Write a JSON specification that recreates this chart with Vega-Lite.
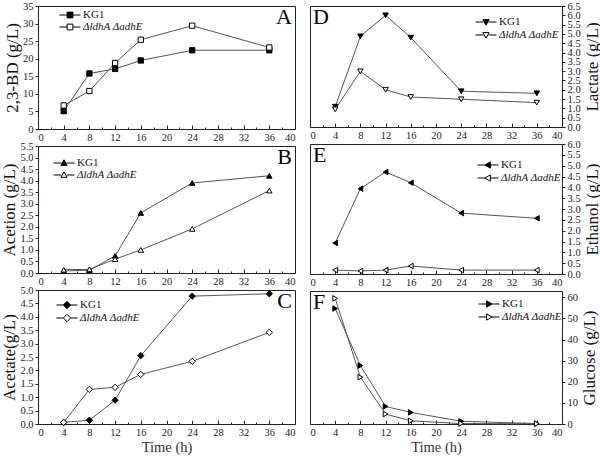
{
  "$schema": "https://vega.github.io/schema/vega-lite/v6.json",
  "padding": {"left": 0, "top": 0, "right": 0, "bottom": 0},
  "datasets": {
    "d": [
      {"panel": "A", "strain": "KG1", "time": 4, "value": 5.1},
      {"panel": "A", "strain": "KG1", "time": 8, "value": 15.8},
      {"panel": "A", "strain": "KG1", "time": 12, "value": 17.1},
      {"panel": "A", "strain": "KG1", "time": 16, "value": 19.5},
      {"panel": "A", "strain": "KG1", "time": 24, "value": 22.4},
      {"panel": "A", "strain": "KG1", "time": 36, "value": 22.4},
      {"panel": "A", "strain": "ΔldhA ΔadhE", "time": 4, "value": 6.7},
      {"panel": "A", "strain": "ΔldhA ΔadhE", "time": 8, "value": 10.8},
      {"panel": "A", "strain": "ΔldhA ΔadhE", "time": 12, "value": 18.8},
      {"panel": "A", "strain": "ΔldhA ΔadhE", "time": 16, "value": 25.4},
      {"panel": "A", "strain": "ΔldhA ΔadhE", "time": 24, "value": 29.4},
      {"panel": "A", "strain": "ΔldhA ΔadhE", "time": 36, "value": 23.2},
      {"panel": "B", "strain": "KG1", "time": 4, "value": 0.09},
      {"panel": "B", "strain": "KG1", "time": 8, "value": 0.12},
      {"panel": "B", "strain": "KG1", "time": 12, "value": 0.74},
      {"panel": "B", "strain": "KG1", "time": 16, "value": 2.6},
      {"panel": "B", "strain": "KG1", "time": 24, "value": 3.9},
      {"panel": "B", "strain": "KG1", "time": 36, "value": 4.21},
      {"panel": "B", "strain": "ΔldhA ΔadhE", "time": 4, "value": 0.14},
      {"panel": "B", "strain": "ΔldhA ΔadhE", "time": 8, "value": 0.16},
      {"panel": "B", "strain": "ΔldhA ΔadhE", "time": 12, "value": 0.6},
      {"panel": "B", "strain": "ΔldhA ΔadhE", "time": 16, "value": 1.0},
      {"panel": "B", "strain": "ΔldhA ΔadhE", "time": 24, "value": 1.91},
      {"panel": "B", "strain": "ΔldhA ΔadhE", "time": 36, "value": 3.57},
      {"panel": "C", "strain": "KG1", "time": 4, "value": 0.06},
      {"panel": "C", "strain": "KG1", "time": 8, "value": 0.14},
      {"panel": "C", "strain": "KG1", "time": 12, "value": 0.89},
      {"panel": "C", "strain": "KG1", "time": 16, "value": 2.55},
      {"panel": "C", "strain": "KG1", "time": 24, "value": 4.77},
      {"panel": "C", "strain": "KG1", "time": 36, "value": 4.86},
      {"panel": "C", "strain": "ΔldhA ΔadhE", "time": 4, "value": 0.06},
      {"panel": "C", "strain": "ΔldhA ΔadhE", "time": 8, "value": 1.29},
      {"panel": "C", "strain": "ΔldhA ΔadhE", "time": 12, "value": 1.37},
      {"panel": "C", "strain": "ΔldhA ΔadhE", "time": 16, "value": 1.85},
      {"panel": "C", "strain": "ΔldhA ΔadhE", "time": 24, "value": 2.34},
      {"panel": "C", "strain": "ΔldhA ΔadhE", "time": 36, "value": 3.42},
      {"panel": "D", "strain": "KG1", "time": 4, "value": 1.09},
      {"panel": "D", "strain": "KG1", "time": 8, "value": 4.87},
      {"panel": "D", "strain": "KG1", "time": 12, "value": 6.0},
      {"panel": "D", "strain": "KG1", "time": 16, "value": 4.8},
      {"panel": "D", "strain": "KG1", "time": 24, "value": 1.92},
      {"panel": "D", "strain": "KG1", "time": 36, "value": 1.81},
      {"panel": "D", "strain": "ΔldhA ΔadhE", "time": 4, "value": 0.95},
      {"panel": "D", "strain": "ΔldhA ΔadhE", "time": 8, "value": 2.99},
      {"panel": "D", "strain": "ΔldhA ΔadhE", "time": 12, "value": 2.0},
      {"panel": "D", "strain": "ΔldhA ΔadhE", "time": 16, "value": 1.61},
      {"panel": "D", "strain": "ΔldhA ΔadhE", "time": 24, "value": 1.49},
      {"panel": "D", "strain": "ΔldhA ΔadhE", "time": 36, "value": 1.31},
      {"panel": "E", "strain": "KG1", "time": 4, "value": 1.43},
      {"panel": "E", "strain": "KG1", "time": 8, "value": 3.94},
      {"panel": "E", "strain": "KG1", "time": 12, "value": 4.71},
      {"panel": "E", "strain": "KG1", "time": 16, "value": 4.21},
      {"panel": "E", "strain": "KG1", "time": 24, "value": 2.81},
      {"panel": "E", "strain": "KG1", "time": 36, "value": 2.57},
      {"panel": "E", "strain": "ΔldhA ΔadhE", "time": 4, "value": 0.18},
      {"panel": "E", "strain": "ΔldhA ΔadhE", "time": 8, "value": 0.14},
      {"panel": "E", "strain": "ΔldhA ΔadhE", "time": 12, "value": 0.18},
      {"panel": "E", "strain": "ΔldhA ΔadhE", "time": 16, "value": 0.37},
      {"panel": "E", "strain": "ΔldhA ΔadhE", "time": 24, "value": 0.18},
      {"panel": "E", "strain": "ΔldhA ΔadhE", "time": 36, "value": 0.18},
      {"panel": "F", "strain": "KG1", "time": 4, "value": 54.7},
      {"panel": "F", "strain": "KG1", "time": 8, "value": 27.7},
      {"panel": "F", "strain": "KG1", "time": 12, "value": 8.3},
      {"panel": "F", "strain": "KG1", "time": 16, "value": 5.5},
      {"panel": "F", "strain": "KG1", "time": 24, "value": 1.3},
      {"panel": "F", "strain": "KG1", "time": 36, "value": 0.2},
      {"panel": "F", "strain": "ΔldhA ΔadhE", "time": 4, "value": 59.5},
      {"panel": "F", "strain": "ΔldhA ΔadhE", "time": 8, "value": 22.2},
      {"panel": "F", "strain": "ΔldhA ΔadhE", "time": 12, "value": 4.7},
      {"panel": "F", "strain": "ΔldhA ΔadhE", "time": 16, "value": 1.5},
      {"panel": "F", "strain": "ΔldhA ΔadhE", "time": 24, "value": 0.2},
      {"panel": "F", "strain": "ΔldhA ΔadhE", "time": 36, "value": 0.1}
    ]
  },
  "spacing": 13,
  "resolve": {"scale": {"fill": "independent", "x": "independent", "y": "independent"}, "legend": {"fill": "independent"}},
  "hconcat": [
    {
      "spacing": 17,
      "bounds": "flush",
      "resolve": {"scale": {"fill": "independent", "x": "independent", "y": "independent"}, "legend": {"fill": "independent"}},
      "vconcat": [
        {
          "width": 257, "height": 123,
          "data": {"name": "d"},
          "resolve": {"axis": {"x": "independent", "y": "independent"}},
          "layer": [
            {"transform": [{"filter": "datum.panel == 'A'"}],
             "mark": {"type": "line", "color": "#555", "strokeWidth": 1},
             "encoding": {
               "x": {"field": "time", "type": "quantitative", "scale": {"domain": [0, 40], "nice": false}, "axis": {"orient": "bottom", "values": [0,4,8,12,16,20,24,28,32,36,40], "labelOverlap": false, "title": null, "tickSize": -4, "labelPadding": 7}},
               "y": {"field": "value", "type": "quantitative", "scale": {"domain": [0, 35], "nice": false}, "axis": {"orient": "left", "values": [0,5,10,15,20,25,30,35], "labelOverlap": false, "title": "2,3-BD (g/L)", "titleFontWeight": 400, "titleFontSize": 17, "titlePadding": 1}},
               "detail": {"field": "strain"}}},
            {"transform": [{"filter": "datum.panel == 'A'"}],
             "mark": {"type": "point", "shape": "square", "filled": true, "size": 28, "stroke": "black", "strokeWidth": 1, "opacity": 1},
             "encoding": {
               "x": {"field": "time", "type": "quantitative", "axis": {"orient": "bottom", "values": [2,6,10,14,18,22,26,30,34,38], "labels": false, "tickSize": -2, "title": null}},
               "y": {"field": "value", "type": "quantitative", "axis": null},
               "fill": {"field": "strain", "type": "nominal", "scale": {"domain": ["KG1", "ΔldhA ΔadhE"], "range": ["black", "white"]},
                 "legend": {"orient": "none", "legendX": 26, "legendY": 3, "symbolType": "M-2,0H-0.55M0.55,0H2M-0.55,-0.55H0.55V0.55H-0.55Z", "symbolSize": 110, "labelOffset": 7}}}},
            {"data": {"values": [{"t": "A"}]},
             "mark": {"type": "text", "align": "right", "baseline": "top", "dx": -3, "dy": 1, "fontSize": 22, "font": "Liberation Serif"},
             "encoding": {"x": {"datum": 40, "axis": null}, "y": {"datum": 35, "axis": null}, "text": {"field": "t"}}}
          ]
        },
        {
          "width": 257, "height": 127,
          "data": {"name": "d"},
          "resolve": {"axis": {"x": "independent", "y": "independent"}},
          "layer": [
            {"transform": [{"filter": "datum.panel == 'B'"}],
             "mark": {"type": "line", "color": "#555", "strokeWidth": 1},
             "encoding": {
               "x": {"field": "time", "type": "quantitative", "scale": {"domain": [0, 40], "nice": false}, "axis": {"orient": "bottom", "values": [0,4,8,12,16,20,24,28,32,36,40], "labelOverlap": false, "title": null, "tickSize": -4, "labelPadding": 7}},
               "y": {"field": "value", "type": "quantitative", "scale": {"domain": [0, 5.5], "nice": false}, "axis": {"orient": "left", "values": [0,0.5,1,1.5,2,2.5,3,3.5,4,4.5,5,5.5], "labelOverlap": false, "format": ".1f", "title": "Acetion (g/L)", "titleFontWeight": 400, "titleFontSize": 17, "titlePadding": 1}},
               "detail": {"field": "strain"}}},
            {"transform": [{"filter": "datum.panel == 'B'"}],
             "mark": {"type": "point", "shape": "triangle-up", "filled": true, "size": 30, "stroke": "black", "strokeWidth": 1, "opacity": 1},
             "encoding": {
               "x": {"field": "time", "type": "quantitative", "axis": {"orient": "bottom", "values": [2,6,10,14,18,22,26,30,34,38], "labels": false, "tickSize": -2, "title": null}},
               "y": {"field": "value", "type": "quantitative", "axis": null},
               "fill": {"field": "strain", "type": "nominal", "scale": {"domain": ["KG1", "ΔldhA ΔadhE"], "range": ["black", "white"]},
                 "legend": {"orient": "none", "legendX": 20, "legendY": 11, "symbolType": "M-2,0H-0.5M0.5,0H2M0,-0.6L0.6,0.45L-0.6,0.45Z", "symbolSize": 110, "labelOffset": 7}}}},
            {"data": {"values": [{"t": "B"}]},
             "mark": {"type": "text", "align": "right", "baseline": "top", "dx": -3, "dy": 1, "fontSize": 22, "font": "Liberation Serif"},
             "encoding": {"x": {"datum": 40, "axis": null}, "y": {"datum": 5.5, "axis": null}, "text": {"field": "t"}}}
          ]
        },
        {
          "width": 257, "height": 134,
          "data": {"name": "d"},
          "resolve": {"axis": {"x": "independent", "y": "independent"}},
          "layer": [
            {"transform": [{"filter": "datum.panel == 'C'"}],
             "mark": {"type": "line", "color": "#555", "strokeWidth": 1},
             "encoding": {
               "x": {"field": "time", "type": "quantitative", "scale": {"domain": [0, 40], "nice": false}, "axis": {"orient": "bottom", "values": [0,4,8,12,16,20,24,28,32,36,40], "labelOverlap": false, "title": "Time (h)", "titleFontWeight": "normal", "titleFontSize": 14.5, "titleColor": "#333", "titlePadding": 3, "tickSize": -4, "labelPadding": 7}},
               "y": {"field": "value", "type": "quantitative", "scale": {"domain": [0, 5], "nice": false}, "axis": {"orient": "left", "values": [0,0.5,1,1.5,2,2.5,3,3.5,4,4.5,5], "labelOverlap": false, "format": ".1f", "title": "Acetate(g/L)", "titleFontWeight": 400, "titleFontSize": 17, "titlePadding": 1}},
               "detail": {"field": "strain"}}},
            {"transform": [{"filter": "datum.panel == 'C'"}],
             "mark": {"type": "point", "shape": "diamond", "filled": true, "size": 40, "stroke": "black", "strokeWidth": 1, "opacity": 1},
             "encoding": {
               "x": {"field": "time", "type": "quantitative", "axis": {"orient": "bottom", "values": [2,6,10,14,18,22,26,30,34,38], "labels": false, "tickSize": -2, "title": null}},
               "y": {"field": "value", "type": "quantitative", "axis": null},
               "fill": {"field": "strain", "type": "nominal", "scale": {"domain": ["KG1", "ΔldhA ΔadhE"], "range": ["black", "white"]},
                 "legend": {"orient": "none", "legendX": 23, "legendY": 9, "symbolType": "M-2,0H-0.7M0.7,0H2M0,-0.7L0.7,0L0,0.7L-0.7,0Z", "symbolSize": 110, "labelOffset": 7}}}},
            {"data": {"values": [{"t": "C"}]},
             "mark": {"type": "text", "align": "right", "baseline": "top", "dx": -3, "dy": 1, "fontSize": 22, "font": "Liberation Serif"},
             "encoding": {"x": {"datum": 40, "axis": null}, "y": {"datum": 5, "axis": null}, "text": {"field": "t"}}}
          ]
        }
      ]
    },
    {
      "spacing": 17,
      "bounds": "flush",
      "resolve": {"scale": {"fill": "independent", "x": "independent", "y": "independent"}, "legend": {"fill": "independent"}},
      "vconcat": [
        {
          "width": 252, "height": 121,
          "data": {"name": "d"},
          "resolve": {"axis": {"x": "independent", "y": "independent"}},
          "layer": [
            {"transform": [{"filter": "datum.panel == 'D'"}],
             "mark": {"type": "line", "color": "#555", "strokeWidth": 1},
             "encoding": {
               "x": {"field": "time", "type": "quantitative", "scale": {"domain": [0, 40], "nice": false}, "axis": {"orient": "bottom", "values": [0,4,8,12,16,20,24,28,32,36,40], "labelOverlap": false, "title": null, "tickSize": -4, "labelPadding": 7}},
               "y": {"field": "value", "type": "quantitative", "scale": {"domain": [0, 6.5], "nice": false}, "axis": {"orient": "right", "values": [0,0.5,1,1.5,2,2.5,3,3.5,4,4.5,5,5.5,6,6.5], "labelOverlap": false, "format": ".1f", "title": "Lactate  (g/L)", "titleFontWeight": 400, "titleAngle": 270, "titleBaseline": "bottom", "titleFontSize": 17, "titlePadding": 21}},
               "detail": {"field": "strain"}}},
            {"transform": [{"filter": "datum.panel == 'D'"}],
             "mark": {"type": "point", "shape": "triangle-down", "filled": true, "size": 30, "stroke": "black", "strokeWidth": 1, "opacity": 1},
             "encoding": {
               "x": {"field": "time", "type": "quantitative", "axis": {"orient": "bottom", "values": [2,6,10,14,18,22,26,30,34,38], "labels": false, "tickSize": -2, "title": null}},
               "y": {"field": "value", "type": "quantitative", "axis": null},
               "fill": {"field": "strain", "type": "nominal", "scale": {"domain": ["KG1", "ΔldhA ΔadhE"], "range": ["black", "white"]},
                 "legend": {"orient": "none", "legendX": 170, "legendY": 10, "symbolType": "M-2,0H-0.5M0.5,0H2M0,0.6L0.6,-0.45L-0.6,-0.45Z", "symbolSize": 110, "labelOffset": 7}}}},
            {"data": {"values": [{"t": "D"}]},
             "mark": {"type": "text", "align": "left", "baseline": "top", "dx": 3, "dy": 1, "fontSize": 22, "font": "Liberation Serif"},
             "encoding": {"x": {"datum": 0, "axis": null}, "y": {"datum": 6.5, "axis": null}, "text": {"field": "t"}}}
          ]
        },
        {
          "width": 252, "height": 130,
          "data": {"name": "d"},
          "resolve": {"axis": {"x": "independent", "y": "independent"}},
          "layer": [
            {"transform": [{"filter": "datum.panel == 'E'"}],
             "mark": {"type": "line", "color": "#555", "strokeWidth": 1},
             "encoding": {
               "x": {"field": "time", "type": "quantitative", "scale": {"domain": [0, 40], "nice": false}, "axis": {"orient": "bottom", "values": [0,4,8,12,16,20,24,28,32,36,40], "labelOverlap": false, "title": null, "tickSize": -4, "labelPadding": 7}},
               "y": {"field": "value", "type": "quantitative", "scale": {"domain": [0, 6], "nice": false}, "axis": {"orient": "right", "values": [0,0.5,1,1.5,2,2.5,3,3.5,4,4.5,5,5.5,6], "labelOverlap": false, "format": ".1f", "title": "Ethanol  (g/L)", "titleFontWeight": 400, "titleAngle": 270, "titleBaseline": "bottom", "titleFontSize": 17, "titlePadding": 21}},
               "detail": {"field": "strain"}}},
            {"transform": [{"filter": "datum.panel == 'E'"}],
             "mark": {"type": "point", "shape": "triangle-left", "filled": true, "size": 30, "stroke": "black", "strokeWidth": 1, "opacity": 1},
             "encoding": {
               "x": {"field": "time", "type": "quantitative", "axis": {"orient": "bottom", "values": [2,6,10,14,18,22,26,30,34,38], "labels": false, "tickSize": -2, "title": null}},
               "y": {"field": "value", "type": "quantitative", "axis": null},
               "fill": {"field": "strain", "type": "nominal", "scale": {"domain": ["KG1", "ΔldhA ΔadhE"], "range": ["black", "white"]},
                 "legend": {"orient": "none", "legendX": 172, "legendY": 15, "symbolType": "M-2,0H-0.6M0.45,0H2M-0.6,0L0.45,-0.6L0.45,0.6Z", "symbolSize": 110, "labelOffset": 7}}}},
            {"data": {"values": [{"t": "E"}]},
             "mark": {"type": "text", "align": "left", "baseline": "top", "dx": 3, "dy": 1, "fontSize": 22, "font": "Liberation Serif"},
             "encoding": {"x": {"datum": 0, "axis": null}, "y": {"datum": 6, "axis": null}, "text": {"field": "t"}}}
          ]
        },
        {
          "width": 252, "height": 133,
          "data": {"name": "d"},
          "resolve": {"axis": {"x": "independent", "y": "independent"}},
          "layer": [
            {"transform": [{"filter": "datum.panel == 'F'"}],
             "mark": {"type": "line", "color": "#555", "strokeWidth": 1},
             "encoding": {
               "x": {"field": "time", "type": "quantitative", "scale": {"domain": [0, 40], "nice": false}, "axis": {"orient": "bottom", "values": [0,4,8,12,16,20,24,28,32,36,40], "labelOverlap": false, "title": "Time (h)", "titleFontWeight": "normal", "titleFontSize": 14.5, "titleColor": "#333", "titlePadding": 3, "tickSize": -4, "labelPadding": 7}},
               "y": {"field": "value", "type": "quantitative", "scale": {"domain": [0, 63], "nice": false}, "axis": {"orient": "right", "values": [0,10,20,30,40,50,60], "labelOverlap": false, "title": "Glucose  (g/L)", "titleFontWeight": 400, "titleAngle": 270, "titleBaseline": "bottom", "titleFontSize": 17, "titlePadding": 21}},
               "detail": {"field": "strain"}}},
            {"transform": [{"filter": "datum.panel == 'F'"}],
             "mark": {"type": "point", "shape": "triangle-right", "filled": true, "size": 30, "stroke": "black", "strokeWidth": 1, "opacity": 1},
             "encoding": {
               "x": {"field": "time", "type": "quantitative", "axis": {"orient": "bottom", "values": [2,6,10,14,18,22,26,30,34,38], "labels": false, "tickSize": -2, "title": null}},
               "y": {"field": "value", "type": "quantitative", "axis": null},
               "fill": {"field": "strain", "type": "nominal", "scale": {"domain": ["KG1", "ΔldhA ΔadhE"], "range": ["black", "white"]},
                 "legend": {"orient": "none", "legendX": 173, "legendY": 7, "symbolType": "M-2,0H-0.45M0.6,0H2M0.6,0L-0.45,-0.6L-0.45,0.6Z", "symbolSize": 110, "labelOffset": 7}}}},
            {"data": {"values": [{"t": "F"}]},
             "mark": {"type": "text", "align": "left", "baseline": "top", "dx": 3, "dy": 1, "fontSize": 22, "font": "Liberation Serif"},
             "encoding": {"x": {"datum": 0, "axis": null}, "y": {"datum": 63, "axis": null}, "text": {"field": "t"}}}
          ]
        }
      ]
    }
  ],
  "config": {
    "font": "Liberation Serif",
    "view": {"stroke": "#222", "strokeWidth": 1},
    "axis": {"grid": false, "domain": false, "labelOverlap": false, "labelFont": "Liberation Serif", "labelFontSize": 10.5, "labelColor": "#222", "titleFont": "Liberation Serif", "titleFontWeight": "normal", "titleColor": "#111", "tickColor": "#222", "tickSize": 3},
    "legend": {"title": null, "padding": 0, "rowPadding": 1, "labelFont": "Liberation Serif", "labelFontSize": 11, "labelColor": "#111", "symbolStrokeColor": "black", "symbolStrokeWidth": 1, "labelFontStyle": {"expr": "datum.label == 'KG1' ? 'normal' : 'italic'"}}
  }
}
